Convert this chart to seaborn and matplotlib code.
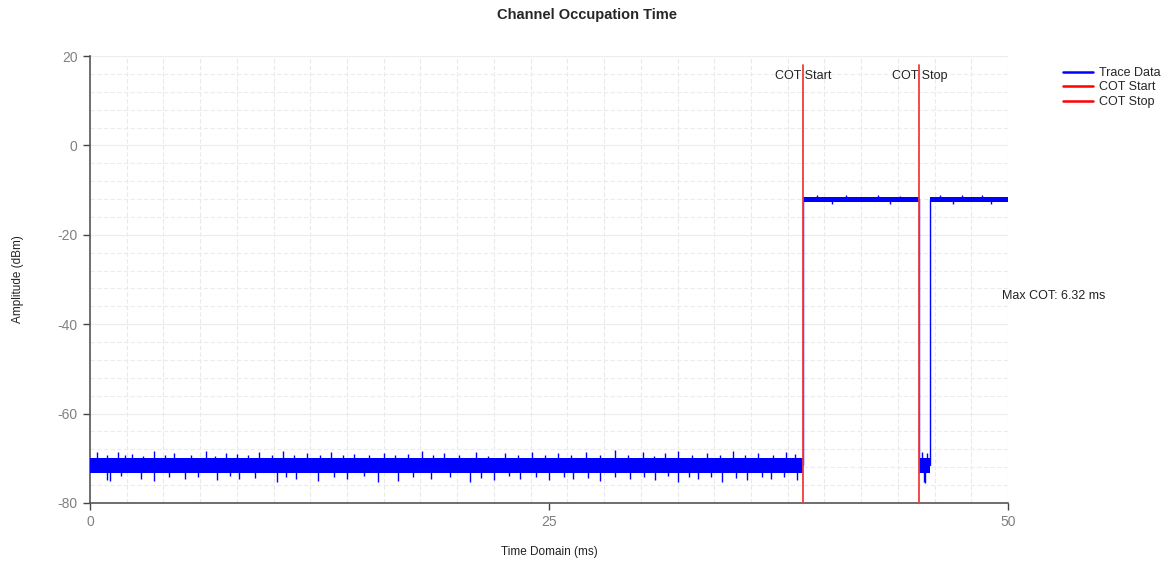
import matplotlib
matplotlib.use("Agg")
import matplotlib.pyplot as plt
import pandas as pd
import seaborn as sns
from matplotlib.lines import Line2D

# --- data ---
COT_START = 38.85   # ms
COT_STOP = 45.17    # ms
MAX_COT_LABEL = "Max COT: 6.32 ms"

# trace corners (step shape): noise floor -> burst -> floor -> burst
TRACE_T = [0.0, 38.85, 38.85, 45.17, 45.17, 45.75, 45.75, 50.0]
TRACE_A = [-71.6, -71.6, -12.1, -12.1, -71.6, -71.6, -12.1, -12.1]

# dense noise envelope per segment: (start, end, low, high)
SEG_START = [0.0, 38.85, 45.17, 45.75]
SEG_END = [38.85, 45.17, 45.75, 50.0]
SEG_LOW = [-73.3, -12.6, -73.2, -12.7]
SEG_HIGH = [-69.9, -11.6, -69.9, -11.5]

# isolated noise spikes poking out of the envelope (time ms, amplitude dBm)
SPIKE_UP_T = [0.4, 0.9, 1.5, 1.9, 2.3, 2.9, 3.5, 4.1, 4.6, 5.5, 6.3, 6.8, 7.4,
              8.0, 8.6, 9.2, 9.9, 10.5, 11.1, 11.8, 12.5, 13.1, 13.8, 14.4,
              15.2, 16.0, 16.6, 17.3, 18.1, 18.7, 19.3, 20.1, 21.0, 21.7,
              22.6, 23.3, 24.1, 24.8, 25.5, 26.2, 27.0, 27.8, 28.6, 29.3,
              30.1, 30.7, 31.3, 32.0, 32.8, 33.6, 34.3, 35.0, 35.7, 36.4,
              37.2, 37.9, 38.4, 45.3, 45.6, 39.6, 41.2, 42.9, 44.1, 46.3,
              47.5, 48.6]
SPIKE_UP_A = [-68.7, -69.3, -68.5, -69.2, -69.0, -69.4, -68.4, -69.3, -68.9,
              -69.2, -68.3, -69.4, -68.8, -69.1, -69.3, -68.5, -69.2, -68.3,
              -69.3, -68.9, -69.2, -68.6, -69.3, -69.0, -69.2, -68.8, -69.3,
              -69.1, -68.4, -69.3, -68.9, -69.2, -68.7, -69.4, -68.8, -69.2,
              -68.6, -69.3, -68.9, -69.2, -68.7, -69.3, -68.1, -69.2, -68.6,
              -69.4, -68.9, -68.3, -69.2, -68.8, -69.3, -68.4, -69.2, -68.9,
              -69.3, -68.7, -69.1, -68.6, -68.9, -11.1, -11.2, -11.1, -11.3,
              -11.0, -11.1, -11.2]
SPIKE_DN_T = [0.9, 1.1, 1.7, 2.8, 3.5, 4.3, 5.2, 5.9, 6.9, 7.6, 8.1, 9.0,
              10.2, 10.7, 11.2, 12.4, 13.3, 14.0, 14.9, 15.7, 16.8, 17.6,
              18.6, 19.6, 20.7, 21.3, 22.0, 22.8, 23.4, 24.3, 25.0, 25.8,
              26.3, 27.1, 27.8, 28.6, 29.4, 30.2, 30.8, 31.5, 32.0, 32.6,
              33.1, 33.8, 34.4, 35.2, 35.8, 36.6, 37.1, 37.8, 38.5, 45.4,
              45.5, 40.4, 43.6, 47.0, 49.1]
SPIKE_DN_A = [-74.8, -75.1, -74.0, -74.6, -75.0, -74.1, -74.7, -74.2, -74.9,
              -74.0, -74.6, -74.3, -75.2, -74.1, -74.7, -75.1, -74.2, -74.6,
              -74.0, -75.3, -75.0, -74.2, -74.7, -74.1, -75.2, -74.3, -74.8,
              -74.0, -74.6, -74.2, -74.9, -74.1, -74.7, -74.3, -75.0, -74.1,
              -74.6, -74.2, -74.8, -74.0, -75.4, -74.2, -74.7, -74.1, -75.2,
              -74.3, -74.8, -74.1, -74.6, -74.2, -74.9, -75.3, -75.6, -13.1,
              -13.0, -13.2, -13.1]

X_TICKS = [0, 25, 50]
Y_TICKS = [-80, -60, -40, -20, 0, 20]

sns.set_theme(style="white")
plt.rcParams["font.family"] = ["Liberation Sans", "DejaVu Sans"]
plt.rcParams["axes.unicode_minus"] = False

fig = plt.figure(figsize=(11.74, 5.63), dpi=100)
ax = fig.add_axes([90 / 1174, 1 - 503 / 563, 918 / 1174, 447 / 563])

# grid: every 2 ms and every 4 dB, very light
for gx in range(2, 50, 2):
    ax.axvline(gx, color="#e9e9e9", lw=0.8, ls=(0, (4, 2)), zorder=0)
for gy in range(-76, 20, 4):
    solid = gy % 20 == 0
    ax.axhline(gy, color="#ececec", lw=0.8, ls="-" if solid else (0, (4, 2)), zorder=0)
ax.axhline(20, color="#ececec", lw=0.8, zorder=0)
ax.axvline(50, color="#ececec", lw=0.8, zorder=0)

blue = "#0000ff"
trace = pd.DataFrame({"time": TRACE_T, "amp": TRACE_A})
sns.lineplot(data=trace, x="time", y="amp", estimator=None, sort=False,
             color=blue, lw=1.0, ax=ax, zorder=3)
for s, e, lo, hi in zip(SEG_START, SEG_END, SEG_LOW, SEG_HIGH):
    ax.fill_between([s, e], [lo, lo], [hi, hi], color=blue, lw=0, zorder=3)
up_base = [-70.5 if a < -40 else -12.0 for a in SPIKE_UP_A]
dn_base = [-72.5 if a < -40 else -12.2 for a in SPIKE_DN_A]
ax.vlines(SPIKE_UP_T, up_base, SPIKE_UP_A, color=blue, lw=1.0, zorder=3)
ax.vlines(SPIKE_DN_T, SPIKE_DN_A, dn_base, color=blue, lw=1.0, zorder=3)

# COT markers
red = "#f03c3c"
for xv, name in [(COT_START, "COT Start"), (COT_STOP, "COT Stop")]:
    ax.plot([xv, xv], [-80, 17.9], color=red, lw=1.3, zorder=4)
    ax.text(xv, 15.6, name, ha="center", va="center", fontsize=9,
            color="#222222", zorder=5)

ax.text(49.7, -33.8, MAX_COT_LABEL, ha="left", va="center", fontsize=9,
        color="#222222", clip_on=False)

ax.set_xlim(0, 50)
ax.set_ylim(-80, 20)
ax.set_xticks(X_TICKS)
ax.set_yticks(Y_TICKS)
ax.tick_params(axis="both", which="major", direction="out", length=5, width=1,
               color="#444444", labelcolor="#808080", labelsize=10, pad=4,
               bottom=True, left=True)
for side in ["top", "right"]:
    ax.spines[side].set_visible(False)
for side in ["left", "bottom"]:
    ax.spines[side].set_color("#555555")
    ax.spines[side].set_linewidth(1.2)

ax.set_xlabel("Time Domain (ms)", fontsize=8.5, color="#222222", labelpad=12)
ax.set_ylabel("Amplitude (dBm)", fontsize=8.5, color="#222222", labelpad=24)
fig.suptitle("Channel Occupation Time", fontsize=10.5, fontweight="bold",
             y=1 - 8 / 563, va="top")

handles = [Line2D([], [], color=blue, lw=1.8),
           Line2D([], [], color="#ff0000", lw=1.8),
           Line2D([], [], color="#ff0000", lw=1.8)]
fig.legend(handles, ["Trace Data", "COT Start", "COT Stop"], loc="upper left",
           bbox_to_anchor=(1058 / 1174, 1 - 62 / 563), frameon=False,
           fontsize=9, handlelength=2.4, handletextpad=0.5, labelspacing=0.2,
           borderaxespad=0)

fig.savefig("out.png", dpi=100)
